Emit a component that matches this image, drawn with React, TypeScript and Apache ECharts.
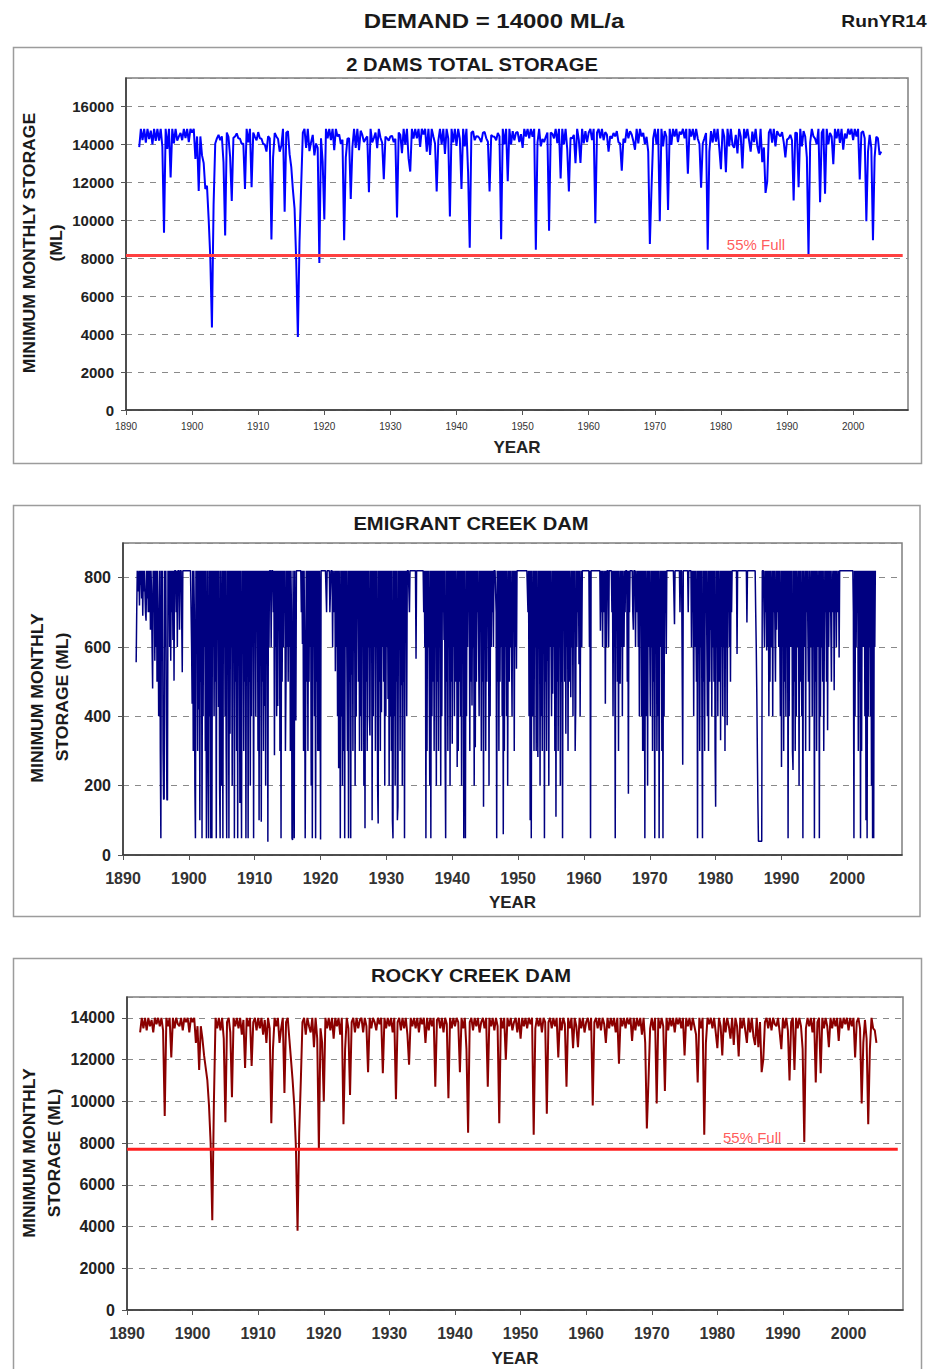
import React, { useEffect, useRef } from "react";
import * as echarts from "echarts";

// Series start at the beginning of 1892.
const START_YEAR = 1892;
const QUARTER = 0.25;
const MONTH = 1 / 12;

// Rocky Creek Dam minimum monthly storage (ML), one sample per quarter.
const rockyStorage = [
  13300, 14000, 13500, 14000, // 1892
  13400, 14000, 13600, 13900, // 1893
  13300, 14000, 13700, 14000, // 1894
  13600, 14000, 13400, 9300, // 1895
  14000, 13600, 14000, 12100, // 1896
  14000, 13500, 14000, 13700, // 1897
  13600, 14000, 13400, 14000, // 1898
  13800, 14000, 13300, 14000, // 1899
  13800, 14000, 12800, 13600, // 1900
  11500, 13600, 13000, 12200, // 1901
  11600, 11000, 9800, 8000, // 1902
  4300, 10000, 14000, 13500, // 1903
  14000, 13400, 14000, 13000, // 1904
  9000, 13800, 14000, 13300, // 1905
  10200, 14000, 13600, 14000, // 1906
  13500, 14000, 13200, 13900, // 1907
  11600, 14000, 13600, 14000, // 1908
  11700, 13800, 14000, 13400, // 1909
  14000, 13500, 14000, 13200, // 1910
  13900, 12800, 14000, 13500, // 1911
  8950, 12500, 14000, 13600, // 1912
  14000, 12800, 13500, 14000, // 1913
  10400, 13800, 14000, 13000, // 1914
  12000, 11000, 9800, 7800, // 1915
  3800, 8500, 11000, 13800, // 1916
  14000, 13200, 14000, 13600, // 1917
  13300, 14000, 12600, 14000, // 1918
  13000, 7700, 13500, 12800, // 1919
  10000, 14000, 13500, 14000, // 1920
  13400, 14000, 13000, 14000, // 1921
  13600, 14000, 13200, 14000, // 1922
  8900, 12500, 14000, 13500, // 1923
  10300, 13800, 14000, 13300, // 1924
  14000, 13500, 13900, 14000, // 1925
  13300, 14000, 13600, 11400, // 1926
  14000, 13500, 14000, 13800, // 1927
  13400, 14000, 13700, 14000, // 1928
  11350, 14000, 13500, 14000, // 1929
  13600, 14000, 13300, 14000, // 1930
  10100, 13800, 14000, 13400, // 1931
  14000, 13500, 14000, 13200, // 1932
  11750, 14000, 13600, 14000, // 1933
  13500, 14000, 13300, 14000, // 1934
  13700, 14000, 12800, 14000, // 1935
  13400, 14000, 13600, 14000, // 1936
  10700, 13900, 14000, 13500, // 1937
  14000, 13300, 14000, 13700, // 1938
  10150, 14000, 13500, 14000, // 1939
  13600, 14000, 13800, 11400, // 1940
  14000, 13500, 14000, 12500, // 1941
  8500, 13800, 14000, 13400, // 1942
  14000, 13600, 14000, 13300, // 1943
  13800, 14000, 13500, 14000, // 1944
  10700, 14000, 13600, 14000, // 1945
  13400, 14000, 13600, 8950, // 1946
  14000, 13500, 14000, 12000, // 1947
  14000, 13600, 14000, 13400, // 1948
  13800, 14000, 13300, 14000, // 1949
  13000, 14000, 13600, 14000, // 1950
  13500, 14000, 13700, 14000, // 1951
  8400, 13500, 14000, 13600, // 1952
  14000, 13300, 14000, 13800, // 1953
  9400, 13800, 14000, 13500, // 1954
  14000, 13600, 14000, 12100, // 1955
  14000, 13400, 14000, 13700, // 1956
  10700, 14000, 13500, 14000, // 1957
  12550, 14000, 13600, 12600, // 1958
  14000, 13500, 14000, 13300, // 1959
  13800, 14000, 13400, 14000, // 1960
  9800, 13800, 14000, 13500, // 1961
  14000, 13400, 14000, 13700, // 1962
  12800, 14000, 13500, 14000, // 1963
  13600, 14000, 13300, 14000, // 1964
  11800, 14000, 13600, 14000, // 1965
  13500, 14000, 13700, 14000, // 1966
  12900, 14000, 13400, 14000, // 1967
  13600, 14000, 13200, 14000, // 1968
  12800, 8700, 11000, 13500, // 1969
  14000, 13400, 14000, 9900, // 1970
  14000, 13500, 14000, 13600, // 1971
  10500, 14000, 13400, 14000, // 1972
  13600, 14000, 13300, 14000, // 1973
  13700, 14000, 13500, 14000, // 1974
  12200, 14000, 13600, 14000, // 1975
  13400, 14000, 13600, 13200, // 1976
  10900, 14000, 13500, 14000, // 1977
  8400, 12800, 14000, 13700, // 1978
  14000, 13500, 14000, 13300, // 1979
  12550, 14000, 13600, 12200, // 1980
  14000, 13300, 14000, 13600, // 1981
  13000, 14000, 12700, 14000, // 1982
  13600, 12150, 14000, 13500, // 1983
  14000, 13400, 12800, 14000, // 1984
  13300, 14000, 13100, 12700, // 1985
  14000, 12600, 13800, 11400, // 1986
  12000, 13800, 14000, 13500, // 1987
  14000, 13400, 14000, 13700, // 1988
  13600, 14000, 13300, 12500, // 1989
  14000, 13500, 14000, 13400, // 1990
  11000, 13800, 14000, 11500, // 1991
  14000, 13500, 14000, 13600, // 1992
  12500, 8050, 13500, 14000, // 1993
  13600, 14000, 13300, 14000, // 1994
  10900, 13800, 14000, 11350, // 1995
  14000, 13500, 14000, 13600, // 1996
  12600, 14000, 13500, 14000, // 1997
  13600, 14000, 12900, 14000, // 1998
  13500, 14000, 13700, 14000, // 1999
  13400, 14000, 13600, 14000, // 2000
  12100, 13800, 14000, 13500, // 2001
  9900, 12800, 13900, 13000, // 2002
  8900, 12500, 14000, 13500, // 2003
  13400, 12800, // 2004
];

// Emigrant Creek Dam minimum monthly storage (ML), one sample per month.
const emigrantStorage = [
  556, 700, 820, 820, 760, 820, 720, 820, 780, 820, 740, 820, // 1892
  690, 820, 760, 820, 820, 700, 676, 820, 740, 820, 700, 820, // 1893
  700, 820, 650, 820, 760, 600, 480, 820, 700, 820, 560, 820, // 1894
  600, 820, 500, 820, 700, 400, 480, 820, 300, 48, 820, 700, // 1895
  820, 300, 160, 163, 820, 600, 820, 400, 160, 158, 820, 700, // 1896
  820, 600, 820, 560, 820, 700, 820, 620, 820, 503, 820, 820, // 1897
  820, 700, 820, 600, 820, 820, 820, 650, 820, 820, 820, 820, // 1898
  527, 820, 820, 820, 820, 820, 820, 820, 820, 820, 820, 820, // 1899
  820, 820, 820, 820, 820, 600, 436, 820, 300, 820, 700, 200, // 1900
  48, 820, 600, 820, 300, 820, 420, 820, 100, 820, 500, 820, // 1901
  48, 820, 400, 820, 600, 820, 300, 820, 48, 48, 820, 300, // 1902
  48, 820, 400, 820, 48, 820, 48, 820, 600, 820, 400, 820, // 1903
  500, 820, 48, 820, 700, 820, 427, 820, 200, 48, 820, 600, // 1904
  200, 820, 48, 820, 600, 820, 400, 820, 300, 48, 820, 700, // 1905
  820, 48, 820, 350, 820, 600, 820, 200, 820, 580, 820, 48, // 1906
  820, 500, 820, 300, 820, 48, 820, 600, 820, 150, 820, 400, // 1907
  48, 820, 600, 820, 300, 820, 500, 820, 48, 820, 700, 820, // 1908
  48, 820, 500, 820, 200, 820, 400, 820, 600, 820, 48, 820, // 1909
  647, 820, 400, 820, 700, 820, 300, 820, 100, 820, 600, 820, // 1910
  96, 820, 500, 820, 300, 820, 430, 820, 200, 820, 700, 820, // 1911
  38, 820, 600, 820, 820, 820, 600, 820, 820, 820, 700, 820, // 1912
  288, 820, 600, 820, 400, 820, 430, 820, 700, 820, 300, 820, // 1913
  48, 820, 500, 820, 600, 820, 700, 820, 300, 484, 820, 600, // 1914
  820, 500, 820, 600, 820, 300, 820, 700, 48, 43, 820, 400, // 1915
  48, 820, 400, 388, 820, 820, 820, 820, 820, 820, 820, 820, // 1916
  820, 700, 820, 609, 820, 300, 820, 600, 48, 48, 820, 500, // 1917
  820, 300, 820, 500, 820, 600, 820, 200, 820, 48, 820, 600, // 1918
  820, 400, 820, 48, 820, 500, 820, 300, 820, 300, 820, 700, // 1919
  45, 820, 820, 820, 820, 820, 820, 820, 820, 820, 820, 700, // 1920
  820, 820, 820, 820, 820, 700, 700, 820, 820, 820, 600, 820, // 1921
  820, 700, 820, 530, 820, 600, 820, 400, 820, 250, 820, 600, // 1922
  48, 820, 400, 820, 200, 820, 300, 820, 48, 820, 600, 820, // 1923
  820, 300, 820, 48, 820, 500, 820, 48, 820, 520, 820, 300, // 1924
  820, 600, 820, 200, 820, 400, 820, 700, 820, 500, 820, 300, // 1925
  820, 400, 820, 300, 820, 600, 820, 200, 820, 77, 820, 500, // 1926
  820, 300, 820, 600, 820, 400, 345, 820, 700, 820, 100, 820, // 1927
  400, 820, 600, 820, 300, 820, 650, 820, 200, 91, 820, 500, // 1928
  820, 300, 820, 412, 820, 600, 820, 500, 820, 200, 820, 400, // 1929
  820, 600, 820, 450, 820, 200, 820, 400, 820, 300, 820, 100, // 1930
  48, 820, 400, 820, 200, 820, 500, 820, 100, 139, 820, 600, // 1931
  820, 300, 820, 490, 820, 200, 820, 500, 820, 48, 820, 700, // 1932
  820, 400, 820, 820, 820, 820, 700, 820, 820, 820, 820, 820, // 1933
  820, 820, 820, 820, 820, 820, 566, 820, 820, 820, 820, 820, // 1934
  820, 820, 820, 820, 820, 820, 820, 820, 700, 820, 600, 820, // 1935
  48, 820, 300, 820, 600, 820, 820, 200, 820, 48, 820, 400, // 1936
  820, 500, 820, 300, 820, 600, 820, 200, 820, 500, 820, 300, // 1937
  820, 600, 820, 200, 820, 400, 820, 700, 820, 620, 820, 300, // 1938
  48, 820, 500, 820, 300, 820, 600, 820, 200, 820, 500, 820, // 1939
  321, 820, 600, 820, 400, 820, 500, 820, 700, 254, 820, 300, // 1940
  820, 500, 820, 400, 820, 200, 820, 600, 820, 48, 820, 500, // 1941
  48, 820, 400, 820, 600, 820, 700, 820, 300, 820, 500, 820, // 1942
  431, 820, 600, 820, 200, 820, 311, 820, 500, 820, 700, 820, // 1943
  820, 400, 820, 650, 820, 300, 820, 500, 820, 139, 820, 600, // 1944
  820, 300, 820, 500, 820, 700, 820, 200, 820, 400, 820, 600, // 1945
  820, 700, 820, 600, 820, 820, 820, 820, 700, 48, 820, 500, // 1946
  820, 300, 820, 500, 820, 600, 820, 400, 820, 60, 820, 300, // 1947
  820, 600, 820, 400, 820, 200, 700, 820, 500, 820, 600, 820, // 1948
  820, 400, 820, 650, 820, 300, 820, 600, 820, 537, 820, 820, // 1949
  820, 820, 820, 820, 820, 820, 820, 820, 820, 820, 820, 820, // 1950
  820, 820, 820, 820, 820, 820, 700, 820, 400, 820, 100, 820, // 1951
  48, 820, 400, 600, 820, 300, 820, 600, 820, 300, 820, 500, // 1952
  283, 820, 600, 820, 200, 820, 400, 820, 300, 820, 700, 820, // 1953
  48, 820, 500, 820, 300, 820, 560, 820, 200, 820, 600, 820, // 1954
  820, 400, 820, 465, 820, 600, 820, 300, 820, 110, 820, 500, // 1955
  820, 300, 820, 600, 820, 200, 820, 500, 820, 48, 820, 700, // 1956
  820, 500, 820, 350, 820, 600, 820, 300, 820, 500, 820, 700, // 1957
  455, 820, 600, 820, 400, 820, 650, 820, 300, 427, 820, 600, // 1958
  820, 700, 820, 550, 820, 400, 700, 820, 600, 820, 820, 820, // 1959
  820, 820, 820, 820, 820, 820, 820, 820, 820, 820, 600, 820, // 1960
  48, 820, 820, 820, 820, 820, 820, 820, 820, 820, 820, 820, // 1961
  820, 820, 820, 820, 820, 820, 647, 820, 700, 820, 600, 820, // 1962
  820, 700, 820, 436, 820, 600, 820, 820, 820, 600, 820, 820, // 1963
  820, 820, 820, 700, 820, 400, 820, 600, 820, 48, 820, 700, // 1964
  820, 500, 820, 300, 820, 700, 494, 820, 600, 820, 400, 820, // 1965
  820, 600, 820, 700, 820, 820, 820, 500, 820, 177, 820, 700, // 1966
  820, 820, 820, 820, 820, 700, 650, 820, 820, 820, 600, 820, // 1967
  820, 700, 820, 600, 820, 400, 820, 700, 820, 400, 820, 300, // 1968
  820, 300, 820, 48, 820, 400, 700, 820, 200, 820, 600, 820, // 1969
  820, 400, 820, 600, 820, 300, 820, 500, 820, 48, 820, 700, // 1970
  820, 300, 820, 400, 820, 48, 700, 820, 600, 820, 300, 820, // 1971
  48, 820, 400, 820, 700, 820, 580, 820, 820, 820, 820, 820, // 1972
  820, 820, 820, 820, 820, 820, 820, 820, 820, 666, 820, 820, // 1973
  820, 820, 820, 820, 820, 820, 820, 700, 820, 820, 820, 820, // 1974
  260, 820, 820, 820, 820, 820, 820, 820, 820, 820, 700, 820, // 1975
  820, 820, 820, 820, 600, 820, 700, 820, 400, 820, 600, 820, // 1976
  820, 500, 820, 48, 820, 600, 820, 300, 820, 600, 820, 400, // 1977
  48, 820, 500, 820, 300, 820, 700, 820, 600, 400, 820, 300, // 1978
  820, 500, 820, 650, 820, 400, 820, 600, 820, 500, 820, 300, // 1979
  139, 820, 600, 820, 400, 820, 820, 500, 820, 331, 820, 600, // 1980
  820, 400, 820, 600, 820, 300, 820, 600, 820, 374, 820, 700, // 1981
  820, 600, 820, 500, 820, 700, 820, 820, 820, 820, 820, 820, // 1982
  820, 820, 820, 580, 820, 820, 820, 820, 820, 820, 820, 820, // 1983
  820, 820, 820, 820, 820, 820, 820, 820, 820, 671, 820, 820, // 1984
  820, 820, 820, 820, 820, 820, 820, 820, 820, 820, 820, 820, // 1985
  820, 700, 600, 465, 300, 150, 40, 40, 40, 40, 40, 40, // 1986
  40, 820, 820, 820, 820, 600, 820, 700, 820, 590, 820, 600, // 1987
  820, 400, 820, 500, 820, 600, 700, 820, 400, 820, 700, 820, // 1988
  820, 500, 820, 650, 820, 700, 820, 600, 820, 820, 400, 820, // 1989
  254, 820, 600, 820, 300, 820, 500, 820, 400, 820, 600, 820, // 1990
  48, 820, 400, 820, 600, 820, 600, 820, 300, 245, 820, 500, // 1991
  820, 300, 820, 400, 820, 600, 700, 820, 200, 820, 500, 820, // 1992
  820, 400, 820, 48, 820, 600, 600, 820, 300, 820, 700, 820, // 1993
  820, 500, 820, 300, 820, 600, 700, 820, 400, 820, 600, 820, // 1994
  48, 820, 500, 820, 300, 820, 820, 600, 820, 48, 820, 400, // 1995
  820, 600, 820, 500, 820, 300, 600, 820, 700, 820, 500, 820, // 1996
  360, 820, 600, 820, 700, 820, 820, 500, 820, 820, 700, 820, // 1997
  475, 820, 700, 820, 600, 820, 820, 700, 820, 570, 820, 820, // 1998
  820, 820, 820, 820, 820, 820, 820, 820, 820, 820, 820, 820, // 1999
  820, 820, 820, 820, 820, 820, 820, 820, 820, 820, 820, 700, // 2000
  48, 820, 400, 820, 600, 820, 700, 820, 300, 820, 500, 820, // 2001
  48, 820, 300, 820, 600, 820, 600, 820, 400, 820, 100, 820, // 2002
  48, 820, 400, 820, 600, 820, 400, 820, 200, 820, 48, 820, // 2003
  48, 820, 600, 820, // 2004
];

// 55% full levels (ML)
const TOTAL_55_FULL = 8140;
const ROCKY_55_FULL = 7700;
const REF_LINE_YEARS = [1890, 2007.5];
const FULL_LABEL_YEAR = 1985.3;
const FULL_LABEL_TEXT = "55% Full";

const X_MIN = 1890;
const X_MAX = 2008.3;
const X_INTERVAL = 10;

const FONT = "'Liberation Sans', Arial, Helvetica, sans-serif";

const rockyData = rockyStorage.map((v, i) => [START_YEAR + i * QUARTER, v]);
const emigrantData = emigrantStorage.map((v, i) => [START_YEAR + i * MONTH, v]);
// Combined storage of both dams on the quarterly dates (every third month).
const totalData = rockyStorage.map((v, i) => [START_YEAR + i * QUARTER, v + emigrantStorage[i * 3]]);

const plainNumber = (v: number) => String(v);

function xAxisFor(gridIndex: number, labelSize: number, labelMargin: number, nameGap: number) {
  return {
    type: "value",
    gridIndex,
    min: X_MIN,
    max: X_MAX,
    interval: X_INTERVAL,
    axisLine: { show: true, onZero: false, lineStyle: { color: "#333", width: 1.5 } },
    axisTick: { show: true, length: 5, lineStyle: { color: "#555" } },
    axisLabel: {
      formatter: plainNumber,
      showMaxLabel: false,
      fontSize: labelSize,
      fontWeight: labelSize > 12 ? "bold" : "normal",
      fontFamily: FONT,
      color: "#333",
      margin: labelMargin,
    },
    splitLine: { show: false },
    name: "YEAR",
    nameLocation: "middle",
    nameGap,
    nameTextStyle: { fontSize: 17, fontWeight: "bold", fontFamily: FONT, color: "#222" },
  };
}

function yAxisFor(gridIndex: number, max: number, interval: number, labelSize: number) {
  return {
    type: "value",
    gridIndex,
    min: 0,
    max,
    interval,
    axisLine: { show: true, lineStyle: { color: "#333", width: 1.5 } },
    axisTick: { show: true, length: 5, lineStyle: { color: "#555" } },
    axisLabel: {
      formatter: plainNumber,
      showMaxLabel: false,
      fontSize: labelSize,
      fontWeight: "bold",
      fontFamily: FONT,
      color: "#222",
      margin: 12,
    },
    splitLine: { show: true, lineStyle: { color: "#8a8a8a", type: [6, 6], width: 1 } },
  };
}

function lineSeries(axis: number, data: number[][], color: string, width: number, z = 2) {
  return {
    type: "line",
    xAxisIndex: axis,
    yAxisIndex: axis,
    data,
    showSymbol: false,
    symbol: "none",
    lineStyle: { color, width },
    z,
    silent: true,
  };
}

function fullLabel(axis: number, level: number) {
  return {
    type: "scatter",
    xAxisIndex: axis,
    yAxisIndex: axis,
    data: [[FULL_LABEL_YEAR, level]],
    symbolSize: 0,
    z: 5,
    label: {
      show: true,
      position: "top",
      distance: 4,
      formatter: FULL_LABEL_TEXT,
      color: "#ff3030",
      fontSize: 15,
      fontFamily: FONT,
    },
  };
}

function text(x: number, y: number, str: string, size: number, opts: any = {}) {
  return {
    type: "text",
    x,
    y,
    rotation: opts.rotation || 0,
    scaleX: opts.scaleX || 1,
    style: {
      text: str,
      fontSize: size,
      fontWeight: opts.weight || "bold",
      fontFamily: FONT,
      fill: opts.color || "#1a1a1a",
      align: "center",
      verticalAlign: "middle",
    },
  };
}

function frame(x: number, y: number, w: number, h: number) {
  return {
    type: "rect",
    shape: { x, y, width: w, height: h },
    style: { fill: "none", stroke: "#9c9c9c", lineWidth: 1.5 },
    z: -1,
  };
}

const VERT = Math.PI / 2;

const option = {
  animation: false,
  backgroundColor: "#ffffff",
  grid: [
    { left: 126, top: 78, width: 782, height: 332, show: true, borderColor: "#7f7f7f", borderWidth: 1.5, backgroundColor: "#fff" },
    { left: 123, top: 543, width: 779, height: 312, show: true, borderColor: "#7f7f7f", borderWidth: 1.5, backgroundColor: "#fff" },
    { left: 127, top: 997, width: 776, height: 313, show: true, borderColor: "#7f7f7f", borderWidth: 1.5, backgroundColor: "#fff" },
  ],
  xAxis: [
    xAxisFor(0, 10, 11, 29),
    xAxisFor(1, 16, 15, 39),
    xAxisFor(2, 16, 15, 40),
  ],
  yAxis: [
    yAxisFor(0, 17500, 2000, 15),
    yAxisFor(1, 900, 200, 16),
    yAxisFor(2, 15000, 2000, 16),
  ],
  graphic: [
    frame(13.5, 47.5, 908, 416),
    frame(13.5, 505.5, 906.5, 411),
    frame(13.5, 958.5, 908, 420),
    text(494, 21, "DEMAND = 14000 ML/a", 20, { scaleX: 1.2 }),
    text(884, 22, "RunYR14", 16, { scaleX: 1.2 }),
    text(472, 65, "2 DAMS TOTAL STORAGE", 18, { scaleX: 1.12 }),
    text(471, 524, "EMIGRANT CREEK DAM", 18, { scaleX: 1.12 }),
    text(471, 976, "ROCKY CREEK DAM", 18, { scaleX: 1.12 }),
    text(30, 243, "MINIMUM MONTHLY STORAGE", 16, { rotation: VERT, scaleX: 1.1 }),
    text(57, 243, "(ML)", 16, { rotation: VERT, scaleX: 1.1 }),
    text(38, 698, "MINIMUM MONTHLY", 16, { rotation: VERT, scaleX: 1.1 }),
    text(63, 697, "STORAGE (ML)", 16, { rotation: VERT, scaleX: 1.1 }),
    text(30, 1153, "MINIMUM MONTHLY", 16, { rotation: VERT, scaleX: 1.1 }),
    text(55, 1153, "STORAGE (ML)", 16, { rotation: VERT, scaleX: 1.1 }),
  ],
  series: [
    lineSeries(0, totalData, "#0000ff", 2),
    lineSeries(0, REF_LINE_YEARS.map((y) => [y, TOTAL_55_FULL]), "#ff4040", 3, 4),
    fullLabel(0, TOTAL_55_FULL),
    lineSeries(1, emigrantData, "#000080", 1.5),
    lineSeries(2, rockyData, "#8b0000", 2),
    lineSeries(2, REF_LINE_YEARS.map((y) => [y, ROCKY_55_FULL]), "#ff2020", 3, 4),
    fullLabel(2, ROCKY_55_FULL),
  ],
};

export default function App() {
  const ref = useRef<HTMLDivElement>(null);
  useEffect(() => {
    if (!ref.current) return;
    const chart = echarts.init(ref.current, undefined, { renderer: "svg" });
    chart.setOption(option as any);
    return () => chart.dispose();
  }, []);
  return (
    <div
      ref={ref}
      style={{ position: "absolute", left: 0, top: 0, width: 931, height: 1369, background: "#fff" }}
    />
  );
}
